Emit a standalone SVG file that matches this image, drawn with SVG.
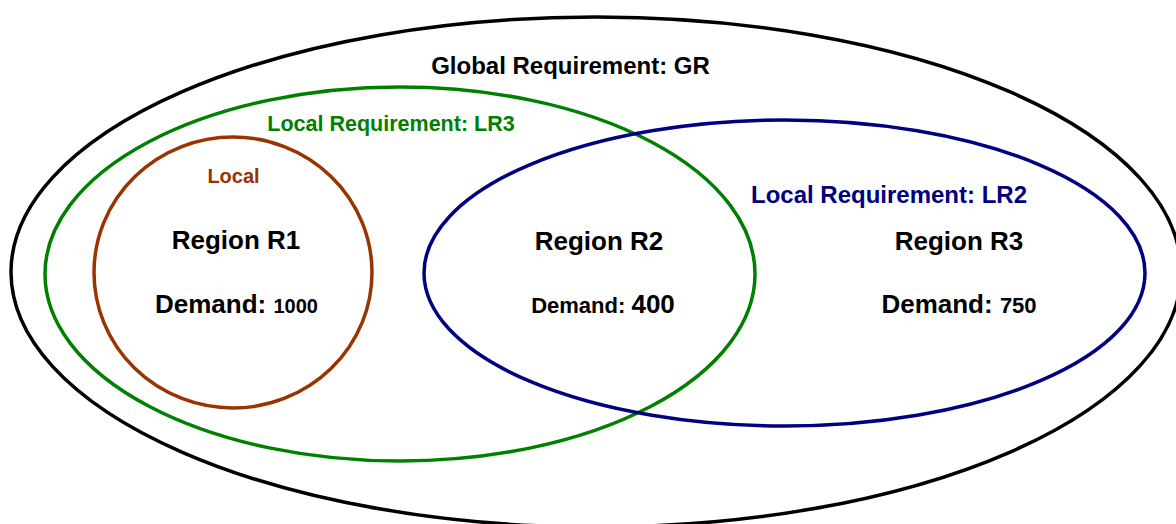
<svg xmlns="http://www.w3.org/2000/svg" width="1176" height="524" viewBox="0 0 1176 524">
<style>
.sh{fill:none;stroke-width:3.5}
text{font-family:"Liberation Sans",Arial,sans-serif;font-weight:bold;text-anchor:middle}
.k{fill:#000}
</style>
<rect width="1176" height="524" fill="#fff"/>
<g id="global">
<ellipse class="sh" cx="596" cy="272" rx="585" ry="255" stroke="#000"/>
<text x="570.5" y="74" font-size="24" class="k">Global Requirement: GR</text>
</g>
<g id="lr3">
<ellipse class="sh" cx="400" cy="274" rx="355" ry="187" stroke="#008000"/>
<text x="391" y="131" font-size="21.5" fill="#008000">Local Requirement: LR3</text>
</g>
<g id="local">
<ellipse class="sh" cx="233" cy="272.5" rx="139" ry="135.5" stroke="#993300"/>
<text x="233.5" y="183" font-size="20" fill="#993300">Local</text>
</g>
<g id="lr2">
<ellipse class="sh" cx="784.5" cy="273" rx="360.5" ry="153" stroke="#000080"/>
<text x="889" y="203" font-size="24" fill="#000080">Local Requirement: LR2</text>
</g>
<g id="r1">
<text x="236" y="249" font-size="26" class="k">Region R1</text>
<text x="236.5" y="313" font-size="26" class="k">Demand: <tspan font-size="20">1000</tspan></text>
</g>
<g id="r2">
<text x="599" y="250" font-size="26" class="k">Region R2</text>
<text x="603" y="313" font-size="22" class="k">Demand: <tspan font-size="26">400</tspan></text>
</g>
<g id="r3">
<text x="959" y="250" font-size="26" class="k">Region R3</text>
<text x="959" y="313" font-size="26" class="k">Demand: <tspan font-size="22">750</tspan></text>
</g>
<g id="connectors"></g>
</svg>
